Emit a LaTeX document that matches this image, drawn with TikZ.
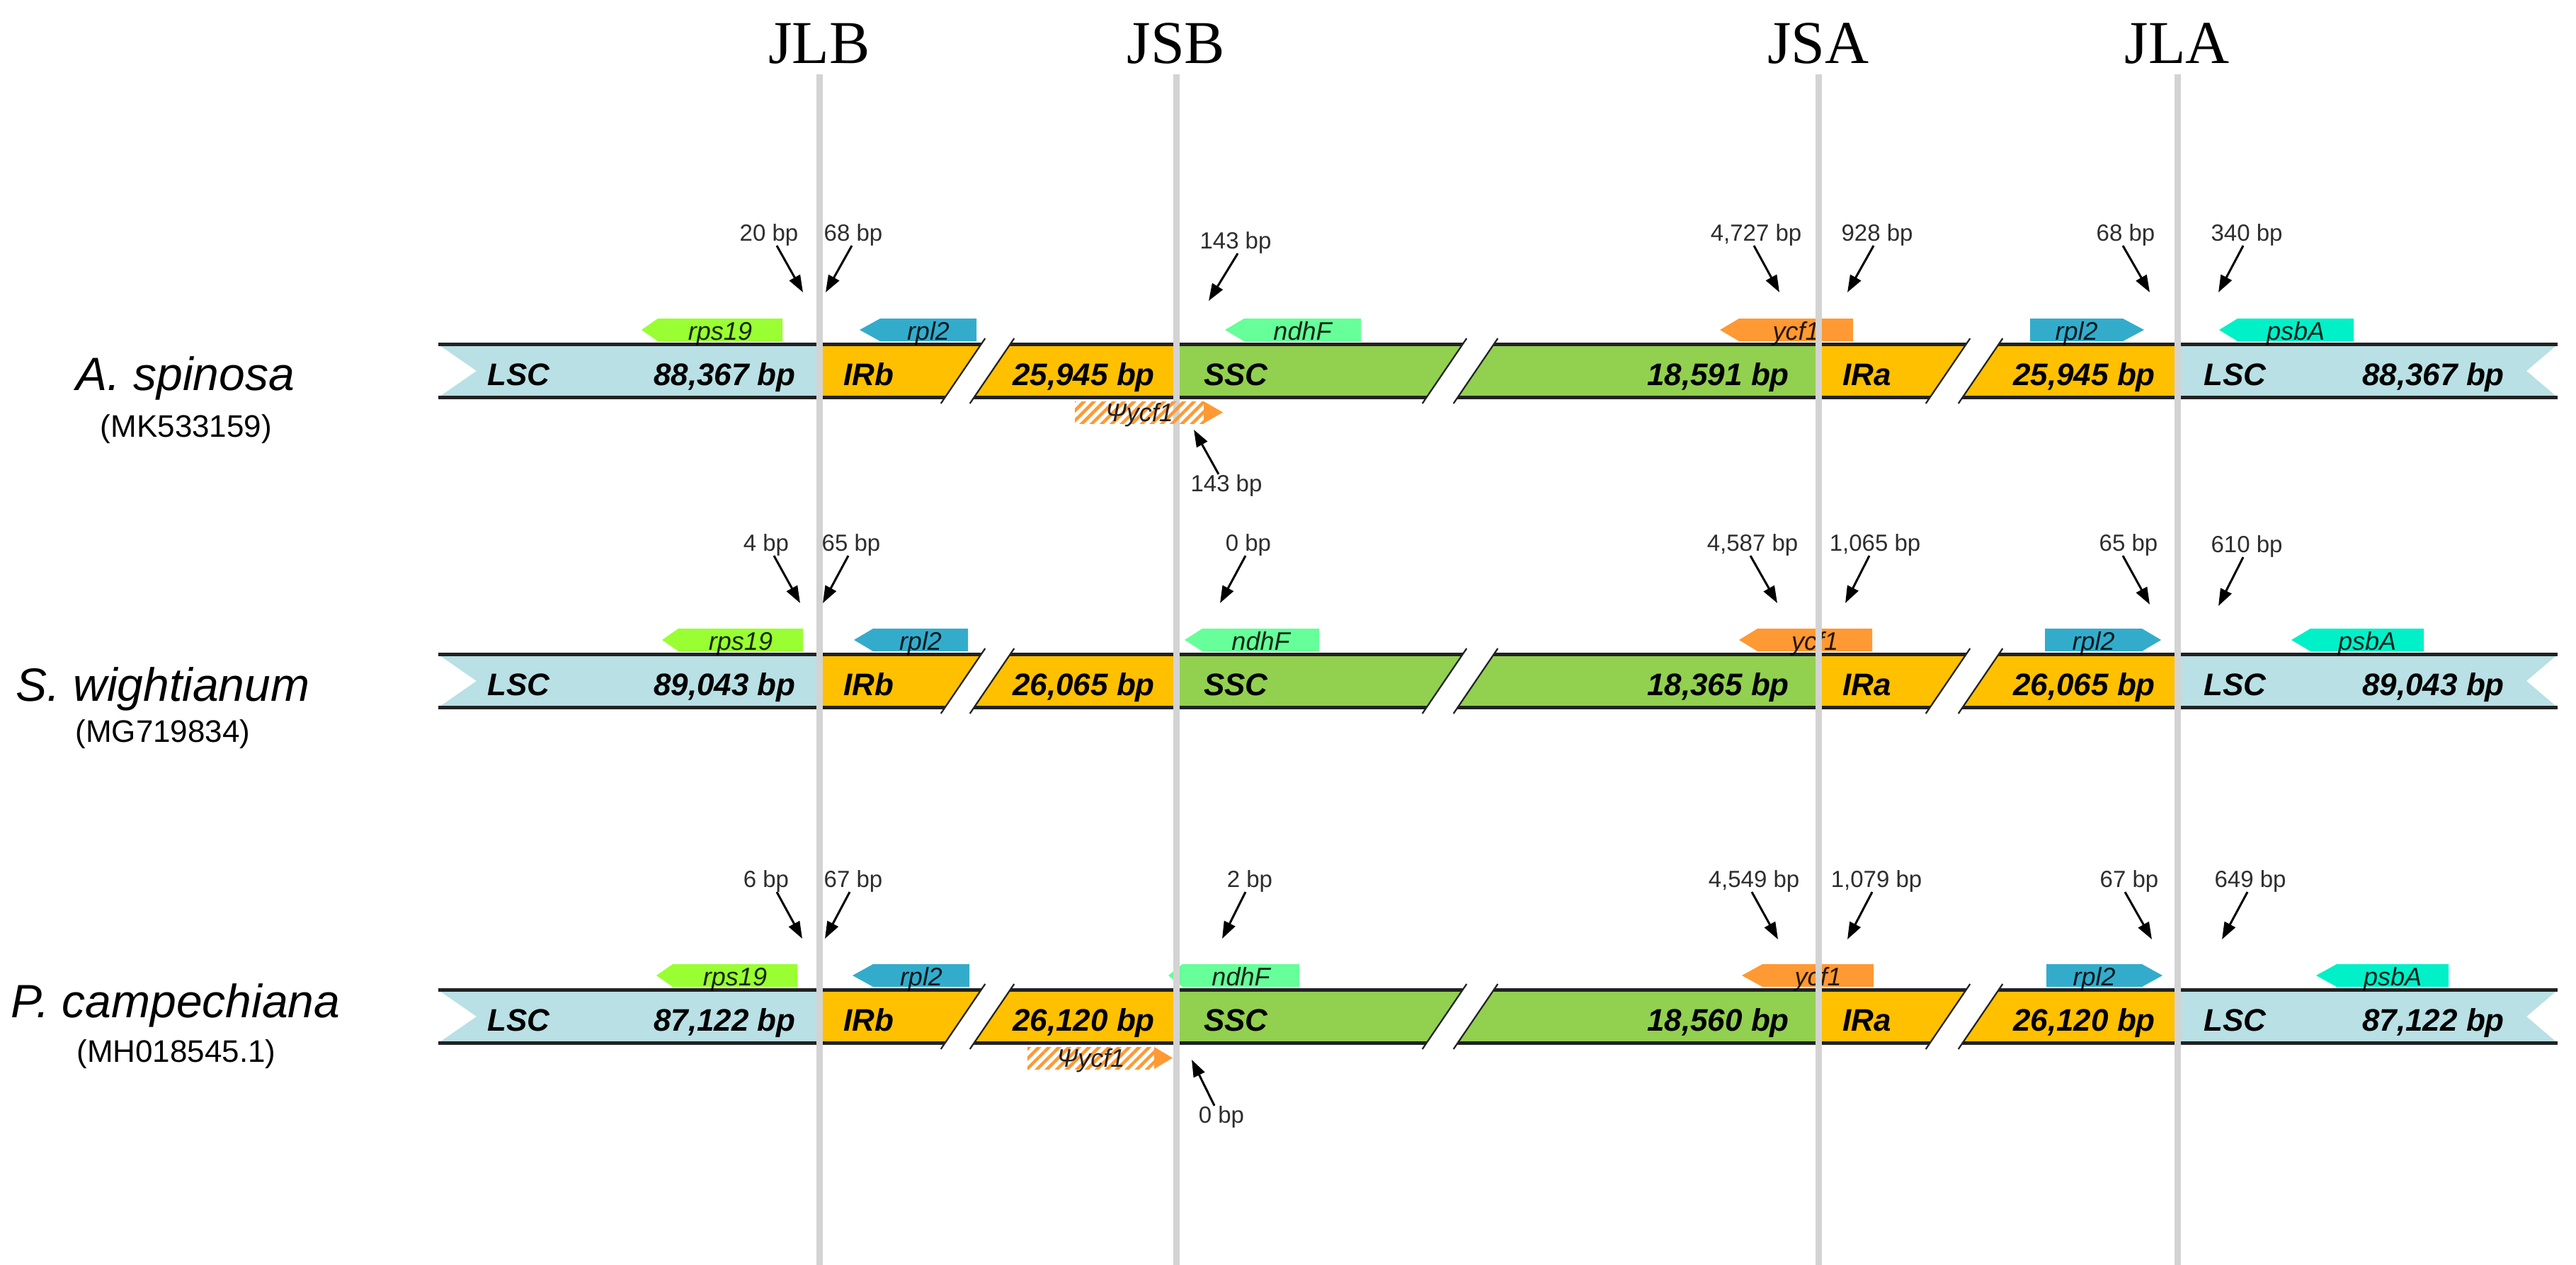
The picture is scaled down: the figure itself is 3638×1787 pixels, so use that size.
\documentclass[tikz,border=0pt]{standalone}
\usepackage{fontspec}
\setmainfont{Liberation Sans}
\newfontfamily\serifjn{Liberation Serif}
\usetikzlibrary{arrows.meta,patterns.meta}
\definecolor{lscc}{HTML}{B8E0E5}
\definecolor{irc}{HTML}{FFC000}
\definecolor{sscc}{HTML}{92D050}
\definecolor{rpsc}{HTML}{99FF33}
\definecolor{rplc}{HTML}{33ACCC}
\definecolor{ndhc}{HTML}{66FF99}
\definecolor{ycfc}{HTML}{FF9933}
\definecolor{psbc}{HTML}{00F0C8}
\definecolor{jgray}{HTML}{D3D3D3}
\definecolor{barblk}{HTML}{222222}
\tikzset{
  segtxt/.style={font=\fontsize{44}{50}\selectfont\bfseries\itshape, inner sep=0pt},
  genetxt/.style={font=\fontsize{36}{40}\selectfont\itshape, inner sep=0pt, text=black, text opacity=0.85},
  bptxt/.style={font=\fontsize{33}{38}\selectfont, inner sep=0pt, text=black!82},
  spc/.style={font=\fontsize{66}{72}\selectfont\itshape, inner sep=0pt},
  acc/.style={font=\fontsize{44}{50}\selectfont, inner sep=0pt},
  jlab/.style={font=\serifjn\fontsize{86}{94}\selectfont, inner sep=0pt},
  jline/.style={draw=jgray, line width=9pt},
  barline/.style={draw=barblk, line width=5pt},
  brkline/.style={draw=barblk, line width=2.2pt},
  bparrow/.style={draw=black, line width=3pt, -{Triangle[length=24pt,width=17pt]}},
}
% bar of one genome: #1 = centre y
\newcommand\brkmark[3]{%
  \fill[white] ({#2+0.68*46},#1-46) -- ({#3+0.68*46},#1-46) -- ({#3-0.68*46},#1+46) -- ({#2-0.68*46},#1+46) -- cycle;
  \draw[brkline] ({#2+0.68*46},#1-46) -- ({#2-0.68*46},#1+46);
  \draw[brkline] ({#3+0.68*46},#1-46) -- ({#3-0.68*46},#1+46);
}
\newcommand\chrbar[1]{%
  \fill[lscc] (619,#1-37.5) -- (1157,#1-37.5) -- (1157,#1+37.5) -- (619,#1+37.5) -- (673,#1) -- cycle;
  \fill[irc] (1157,#1-37.5) rectangle (1661,#1+37.5);
  \fill[sscc] (1661,#1-37.5) rectangle (2568,#1+37.5);
  \fill[irc] (2568,#1-37.5) rectangle (3075,#1+37.5);
  \fill[lscc] (3075,#1-37.5) -- (3612,#1-37.5) -- (3568,#1) -- (3612,#1+37.5) -- (3075,#1+37.5) -- cycle;
  \draw[barline] (619,#1-37.5) -- (3612,#1-37.5);
  \draw[barline] (619,#1+37.5) -- (3612,#1+37.5);
  \brkmark{#1}{1360}{1401}
  \brkmark{#1}{2040}{2084}
  \brkmark{#1}{2751}{2797}
}
% segment labels: #1 prefix, #2 centre y, #3 LSC size, #4 IR size, #5 SSC size
\newcommand\seglabels[5]{%
  \node[segtxt,anchor=base west] (#1lscL) at (688,#2+20) {LSC};
  \node[segtxt,anchor=base east] (#1lscLn) at (1124,#2+20) {#3};
  \node[segtxt,anchor=base west] (#1irb) at (1191,#2+20) {IRb};
  \node[segtxt,anchor=base east] (#1irbn) at (1631,#2+20) {#4};
  \node[segtxt,anchor=base west] (#1ssc) at (1700,#2+20) {SSC};
  \node[segtxt,anchor=base east] (#1sscn) at (2527,#2+20) {#5};
  \node[segtxt,anchor=base west] (#1ira) at (2602,#2+20) {IRa};
  \node[segtxt,anchor=base east] (#1iran) at (3044,#2+20) {#4};
  \node[segtxt,anchor=base west] (#1lscR) at (3112,#2+20) {LSC};
  \node[segtxt,anchor=base east] (#1lscRn) at (3537,#2+20) {#3};
}
% left-pointing gene: #1 name, #2 yc, #3 tip, #4 body start, #5 end, #6 colour, #7 text
\newcommand\genel[7]{%
  \fill[#6] (#3,#2-58) -- (#4,#2-74) -- (#5,#2-74) -- (#5,#2-42) -- (#4,#2-42) -- cycle;
  \node[genetxt,anchor=base] (#1) at ({(#4+#5)/2},#2-44) {#7};
}
% right-pointing gene: #1 name, #2 yc, #3 body start, #4 body end, #5 tip, #6 colour, #7 text
\newcommand\gener[7]{%
  \fill[#6] (#3,#2-74) -- (#4,#2-74) -- (#5,#2-58) -- (#4,#2-42) -- (#3,#2-42) -- cycle;
  \node[genetxt,anchor=base] (#1) at ({(#3+#4)/2},#2-44) {#7};
}
% pseudo ycf1 below bar: #1 name, #2 yc, #3 body start, #4 body end, #5 tip
\newcommand\psigene[5]{%
  \fill[pattern={Lines[angle=45,distance=10pt,line width=4.5pt]}, pattern color=ycfc] (#3,#2+43) rectangle (#4,#2+74);
  \fill[ycfc] (#4,#2+43) -- (#5,#2+58.5) -- (#4,#2+74) -- cycle;
  \node[genetxt,anchor=base] (#1) at ({(#3+#4)/2},#2+71) {Ψycf1};
}
% label above, arrow down: #1 name, #2 text x, #3 baseline y, #4 tail x, #5 tip x, #6 tip y, #7 text
\newcommand\bpdown[7]{%
  \node[bptxt,anchor=base] (#1) at (#2,#3) {#7};
  \coordinate (#1-tip) at (#5,#6);
  \draw[bparrow] ([xshift={#4-#2}]#1.south) -- (#1-tip);
}
% label below, arrow up
\newcommand\bpup[7]{%
  \node[bptxt,anchor=base] (#1) at (#2,#3) {#7};
  \coordinate (#1-tip) at (#5,#6);
  \draw[bparrow] ([xshift={#4-#2}]#1.north) -- (#1-tip);
}
\begin{document}
\begin{tikzpicture}[x=1pt,y=-1pt]
\useasboundingbox (0,0) rectangle (3638,1787);
\fill[white] (0,0) rectangle (3638,1787);

% ---- bars
\chrbar{524}
\chrbar{962}
\chrbar{1436}
\seglabels{a}{524}{88,367 bp}{25,945 bp}{18,591 bp}
\seglabels{b}{962}{89,043 bp}{26,065 bp}{18,365 bp}
\seglabels{c}{1436}{87,122 bp}{26,120 bp}{18,560 bp}

% ---- genes row 1
\genel{a-rps}{524}{906}{929}{1105}{rpsc}{rps19}
\genel{a-rplb}{524}{1214}{1243}{1379}{rplc}{rpl2}
\genel{a-ndh}{524}{1730}{1757}{1922}{ndhc}{ndhF}
\genel{a-ycf}{524}{2429}{2456}{2617}{ycfc}{ycf1}
\gener{a-rpla}{524}{2867}{2998}{3028}{rplc}{rpl2}
\genel{a-psb}{524}{3134}{3160}{3324}{psbc}{psbA}
% ---- genes row 2
\genel{b-rps}{962}{935}{958}{1134}{rpsc}{rps19}
\genel{b-rplb}{962}{1206}{1233}{1367}{rplc}{rpl2}
\genel{b-ndh}{962}{1673}{1698}{1863}{ndhc}{ndhF}
\genel{b-ycf}{962}{2456}{2482}{2644}{ycfc}{ycf1}
\gener{b-rpla}{962}{2888}{3025}{3052}{rplc}{rpl2}
\genel{b-psb}{962}{3236}{3263}{3423}{psbc}{psbA}
% ---- genes row 3
\genel{c-rps}{1436}{927}{950}{1126}{rpsc}{rps19}
\genel{c-rplb}{1436}{1204}{1233}{1369}{rplc}{rpl2}
\genel{c-ndh}{1436}{1650}{1670}{1835}{ndhc}{ndhF}
\genel{c-ycf}{1436}{2460}{2489}{2646}{ycfc}{ycf1}
\gener{c-rpla}{1436}{2890}{3025}{3054}{rplc}{rpl2}
\genel{c-psb}{1436}{3271}{3300}{3458}{psbc}{psbA}

% ---- junction lines
\foreach \nm/\xx in {JLB/1157,JSB/1661,JSA/2568,JLA/3075}{
  \node[jlab,anchor=base] (\nm) at (\xx,90) {\nm};
  \coordinate (\nm-top) at (\xx,105);
  \coordinate (\nm-bot) at (\xx,1787);
  \draw[jline] (\nm-top) -- (\nm-bot);
}

% ---- pseudo ycf1 (drawn over the lines)
\psigene{a-psi}{524}{1518}{1700}{1727}
\psigene{c-psi}{1436}{1451}{1630}{1656}

% ---- distance labels row 1
\bpdown{a1}{1086}{340}{1097}{1134}{413}{20 bp}
\bpdown{a2}{1205}{340}{1203}{1166}{413}{68 bp}
\bpdown{a3}{1745}{351}{1748}{1707}{425}{143 bp}
\bpdown{a4}{2480}{340}{2477}{2513}{413}{4,727 bp}
\bpdown{a5}{2651}{340}{2646}{2609}{413}{928 bp}
\bpdown{a6}{3002}{340}{2998}{3036}{413}{68 bp}
\bpdown{a7}{3173}{340}{3168}{3133}{413}{340 bp}
\bpup{a8}{1732}{694}{1721}{1686}{607}{143 bp}
% ---- row 2
\bpdown{b1}{1082}{778}{1093}{1130}{852}{4 bp}
\bpdown{b2}{1202}{778}{1198}{1162}{852}{65 bp}
\bpdown{b3}{1763}{778}{1759}{1723}{852}{0 bp}
\bpdown{b4}{2475}{778}{2472}{2510}{852}{4,587 bp}
\bpdown{b5}{2648}{778}{2640}{2606}{852}{1,065 bp}
\bpdown{b6}{3006}{778}{2998}{3036}{854}{65 bp}
\bpdown{b7}{3173}{780}{3168}{3133}{856}{610 bp}
% ---- row 3
\bpdown{c1}{1082}{1253}{1097}{1133}{1326}{6 bp}
\bpdown{c2}{1205}{1253}{1200}{1165}{1326}{67 bp}
\bpdown{c3}{1765}{1253}{1759}{1726}{1326}{2 bp}
\bpdown{c4}{2477}{1253}{2474}{2511}{1327}{4,549 bp}
\bpdown{c5}{2650}{1253}{2644}{2609}{1327}{1,079 bp}
\bpdown{c6}{3007}{1253}{3001}{3039}{1327}{67 bp}
\bpdown{c7}{3178}{1253}{3174}{3138}{1327}{649 bp}
\bpup{c8}{1725}{1586}{1715}{1683}{1497}{0 bp}

% ---- species
\node[spc,anchor=base] (sp1) at (262,551) {A. spinosa};
\node[acc,anchor=base] (ac1) at (263,617) {(MK533159)};
\node[spc,anchor=base] (sp2) at (230,990) {S. wightianum};
\node[acc,anchor=base] (ac2) at (230,1048) {(MG719834)};
\node[spc,anchor=base] (sp3) at (248,1437) {P. campechiana};
\node[acc,anchor=base] (ac3) at (249,1500) {(MH018545.1)};
\end{tikzpicture}
\end{document}
